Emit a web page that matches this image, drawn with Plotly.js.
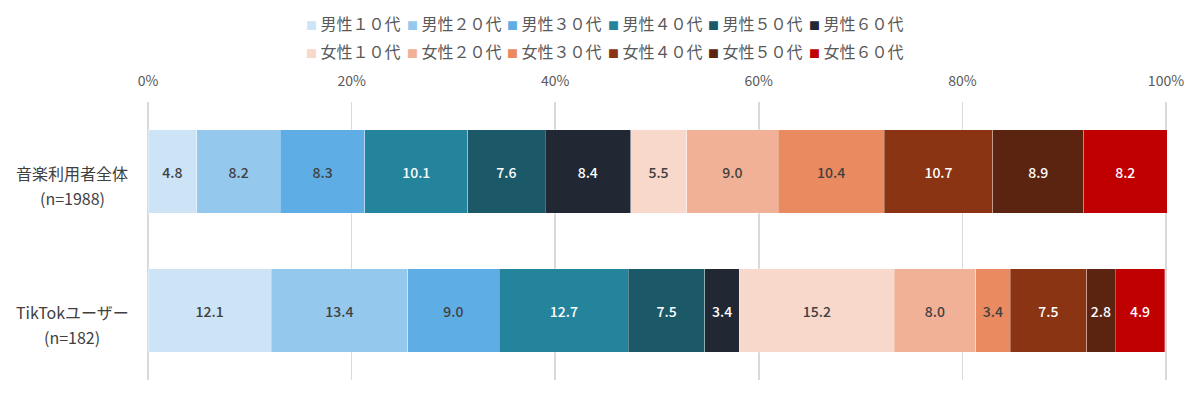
<!DOCTYPE html>
<html><head><meta charset="utf-8">
<script src="https://cdn.plot.ly/plotly-3.0.1.min.js"></script>
<style>body{margin:0;background:#fff}#c{width:1200px;height:397px}</style>
</head><body><div id="c"></div>
<script>
const categories = ["音楽利用者全体", "TikTokユーザー"];
const sampleSizes = ["(n=1988)", "(n=182)"];
const seriesNames = ["男性１０代","男性２０代","男性３０代","男性４０代","男性５０代","男性６０代",
                     "女性１０代","女性２０代","女性３０代","女性４０代","女性５０代","女性６０代"];
const allUsers = [4.8, 8.2, 8.3, 10.1, 7.6, 8.4, 5.5, 9.0, 10.4, 10.7, 8.9, 8.2];
const tiktokUsers = [12.1, 13.4, 9.0, 12.7, 7.5, 3.4, 15.2, 8.0, 3.4, 7.5, 2.8, 4.9];
const tickVals = [0, 20, 40, 60, 80, 100];
const tickText = ["0%", "20%", "40%", "60%", "80%", "100%"];

const colors = ["#cde4f6","#95c8ed","#5eade4","#24849c","#1b5868","#212733",
                "#f8d8cb","#f1b196","#e98a60","#8a3414","#5a2410","#c00000"];
const textColors = ["#404040","#404040","#404040","#ffffff","#ffffff","#ffffff",
                    "#404040","#404040","#404040","#ffffff","#ffffff","#ffffff"];
const font = "'Noto Sans CJK JP', 'Noto Sans', sans-serif";

// plot geometry (pixels) used to place legend-like labels
const W = 1200, H = 397, ML = 148, MR = 33, MT = 102, MB = 17;
const PW = W - ML - MR, PH = H - MT - MB;

const traces = seriesNames.map((name, i) => ({
  type: "bar",
  orientation: "h",
  name: name,
  y: categories,
  x: [allUsers[i], tiktokUsers[i]],
  marker: {color: colors[i], line: {color: "rgba(255,255,255,0.6)", width: 0.5}},
  texttemplate: "%{x:.1f}",
  textposition: "inside",
  insidetextanchor: "middle",
  constraintext: "none",
  textfont: {family: font, size: 14, weight: 500, color: textColors[i]},
  hoverinfo: "x+name",
  showlegend: false
}));

const annotations = [];
// category labels (two lines)
categories.forEach((c, i) => {
  annotations.push({xref: "paper", yref: "y", x: (72 - ML) / PW, y: c, xanchor: "center", yanchor: "middle",
    text: c, showarrow: false, yshift: -1.5, font: {family: font, size: 16, color: "#404040"}});
  annotations.push({xref: "paper", yref: "y", x: (72 - ML) / PW, y: c, xanchor: "center", yanchor: "middle",
    text: sampleSizes[i], showarrow: false, yshift: -26, font: {family: font, size: 16, color: "#404040"}});
});
// legend: two rows of six entries
seriesNames.forEach((name, i) => {
  const row = Math.floor(i / 6), col = i % 6;
  const px = 304 + col * 100.6;
  const py = row === 0 ? 23 : 51;
  annotations.push({
    xref: "paper", yref: "paper", x: (px - ML) / PW, y: (H - MB - py) / PH,
    xanchor: "left", yanchor: "middle", showarrow: false,
    text: '<span style="color:' + colors[i] + ';font-size:11px">■</span> ' + name,
    font: {family: font, size: 16, color: "#595959"}
  });
});

const layout = {
  width: W, height: H,
  margin: {l: ML, r: MR, t: MT, b: MB},
  paper_bgcolor: "#ffffff", plot_bgcolor: "#ffffff",
  barmode: "stack", bargap: 0.4,
  font: {family: font, color: "#595959"},
  showlegend: false,
  annotations: annotations,
  xaxis: {
    side: "top", range: [0, 100.1], tickvals: tickVals, ticktext: tickText,
    showgrid: true, gridcolor: "#d9d9d9", gridwidth: 1.5,
    zeroline: true, zerolinecolor: "#d9d9d9", zerolinewidth: 1.5,
    showline: false, ticks: "", tickfont: {family: font, size: 14, color: "#595959"},
    ticklabelstandoff: 12, fixedrange: true
  },
  yaxis: {
    autorange: "reversed", showgrid: false, zeroline: false, showline: false,
    ticks: "", showticklabels: false, fixedrange: true
  }
};

Plotly.newPlot("c", traces, layout, {displayModeBar: false, staticPlot: true});
</script></body></html>
